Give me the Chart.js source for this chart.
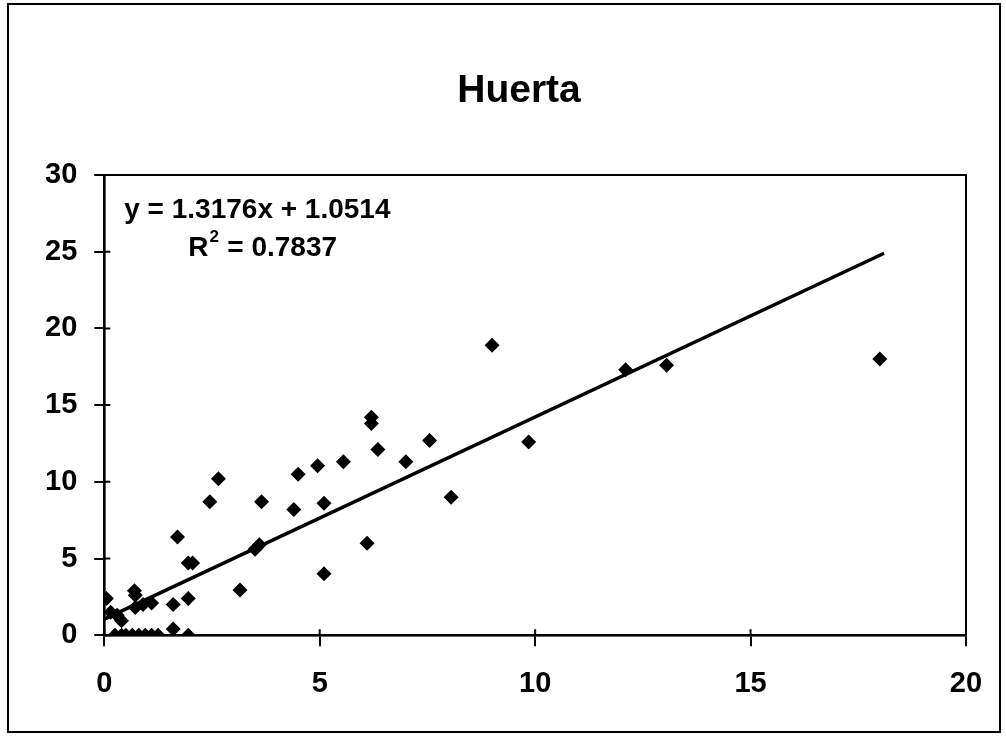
<!DOCTYPE html>
<html>
<head>
<meta charset="utf-8">
<script src="https://cdn.jsdelivr.net/npm/chart.js@4.4.0/dist/chart.umd.min.js"></script>
<style>
  body { margin: 0; background: #fff; }
  #wrap { width: 1006px; height: 736px; }
</style>
</head>
<body>
<div id="wrap"><canvas id="c" width="1006" height="736"></canvas></div>
<script>
// Scatter values
const xValues = [18.0, 13.05, 12.1, 9.0, 9.85, 8.05, 7.55, 7.0, 6.35, 6.2, 6.2, 6.1, 5.55, 4.95, 4.5,
    4.4, 5.1, 5.1, 3.65, 3.6, 3.5, 3.15, 2.65, 2.45, 1.7, 2.05, 1.95, 1.95, 1.6, 1.6,
    1.95, 0.7, 0.72, 0.72, 0.9, 1.1, 0.3, 0.4, 0.05, 0.15,
    0.25, 0.4, 0.5, 0.65, 0.8, 0.95, 1.1, 1.25];
const yValues = [18.0, 17.6, 17.3, 18.9, 12.6, 9.0, 12.7, 11.3, 12.1, 14.2, 13.8, 6.0, 11.3, 11.05, 10.5,
    8.2, 8.6, 4.0, 8.7, 5.9, 5.6, 2.95, 10.2, 8.7, 6.4, 4.7, 4.7, 2.4, 2.0, 0.4,
    0, 2.9, 2.6, 1.8, 2.0, 2.1, 1.3, 0.95, 2.4, 1.5,
    0, 0, 0, 0, 0, 0, 0, 0];

// Trendline from the chart's own equation
const slope = 1.3176;
const intercept = 1.0514;
const rSquared = 0.7837;
const trendX = [0, 18.1];

const xTicks = [0, 5, 10, 15, 20];
const yTicks = [0, 5, 10, 15, 20, 25, 30];
const chartTitle = 'Huerta';

const points = xValues.map((x, i) => ({x: x, y: yValues[i]}));
const trend = trendX.map(x => ({x: x, y: slope * x + intercept}));

const FONT = 'Liberation Sans, Arial, sans-serif';

// frame, title, plot border, inner half of the cross ticks, equation text
const decor = {
    id: 'decor',
    beforeDraw(chart) {
        const ctx = chart.ctx;
        ctx.save();
        ctx.fillStyle = '#fff';
        ctx.fillRect(0, 0, chart.width, chart.height);
        ctx.strokeStyle = '#000';
        ctx.lineWidth = 2;
        ctx.strokeRect(8, 4, chart.width - 14, chart.height - 8);
        // title sits a little right of the canvas centre, as in the original
        ctx.fillStyle = '#000';
        ctx.font = 'bold 39px ' + FONT;
        ctx.textAlign = 'center';
        ctx.textBaseline = 'alphabetic';
        ctx.fillText(chartTitle, chart.width / 2 + 16, 102);
        ctx.restore();
    },
    afterDatasetsDraw(chart) {
        const ctx = chart.ctx;
        const a = chart.chartArea;
        const xs = chart.scales.x, ys = chart.scales.y;
        ctx.save();
        ctx.strokeStyle = '#000';
        ctx.lineWidth = 2;
        ctx.strokeRect(a.left, a.top, a.right - a.left, a.bottom - a.top);
        ctx.beginPath();
        yTicks.forEach(v => {
            const py = ys.getPixelForValue(v);
            ctx.moveTo(a.left, py);
            ctx.lineTo(a.left + 6, py);
        });
        xTicks.forEach(v => {
            const px = xs.getPixelForValue(v);
            ctx.moveTo(px, a.bottom);
            ctx.lineTo(px, a.bottom - 6);
        });
        ctx.stroke();

        ctx.fillStyle = '#000';
        ctx.font = 'bold 28px ' + FONT;
        ctx.textBaseline = 'middle';
        ctx.textAlign = 'left';
        ctx.fillText('y = ' + slope + 'x + ' + intercept, a.left + 20, a.top + 35);
        const rx = a.left + 84, ry = a.top + 73;
        ctx.fillText('R', rx, ry);
        const rw = ctx.measureText('R').width;
        ctx.font = 'bold 17px ' + FONT;
        ctx.fillText('2', rx + rw + 1, ry - 11);
        ctx.font = 'bold 28px ' + FONT;
        ctx.fillText(' = ' + rSquared, rx + rw + 11, ry);
        ctx.restore();
    }
};

new Chart(document.getElementById('c'), {
    type: 'scatter',
    data: {
        datasets: [
            {
                label: 'Huerta',
                data: points,
                pointStyle: 'rectRot',
                pointRadius: 7.5,
                pointHoverRadius: 7.5,
                backgroundColor: '#000',
                borderColor: '#000',
                borderWidth: 0
            },
            {
                label: 'Trend',
                type: 'line',
                data: trend,
                borderColor: '#000',
                borderWidth: 3.5,
                pointRadius: 0,
                fill: false
            }
        ]
    },
    options: {
        responsive: false,
        animation: false,
        layout: {padding: {left: 28, right: 40, top: 175, bottom: 15}},
        plugins: {
            legend: {display: false},
            tooltip: {enabled: false},
            title: {display: false}
        },
        scales: {
            x: {
                type: 'linear',
                min: 0, max: 20,
                afterBuildTicks: s => { s.ticks = xTicks.map(v => ({value: v})); },
                grid: {display: true, drawOnChartArea: false, tickLength: 11, color: '#000', lineWidth: 2},
                border: {display: true, color: '#000', width: 2.5},
                ticks: {color: '#000', padding: 20, font: {family: FONT, size: 29, weight: 'bold'}, maxRotation: 0}
            },
            y: {
                type: 'linear',
                min: 0, max: 30,
                afterBuildTicks: s => { s.ticks = yTicks.map(v => ({value: v})); },
                grid: {display: true, drawOnChartArea: false, tickLength: 10, color: '#000', lineWidth: 2},
                border: {display: true, color: '#000', width: 2.5},
                ticks: {color: '#000', padding: 17, font: {family: FONT, size: 29, weight: 'bold'}}
            }
        }
    },
    plugins: [decor]
});
</script>
</body>
</html>
